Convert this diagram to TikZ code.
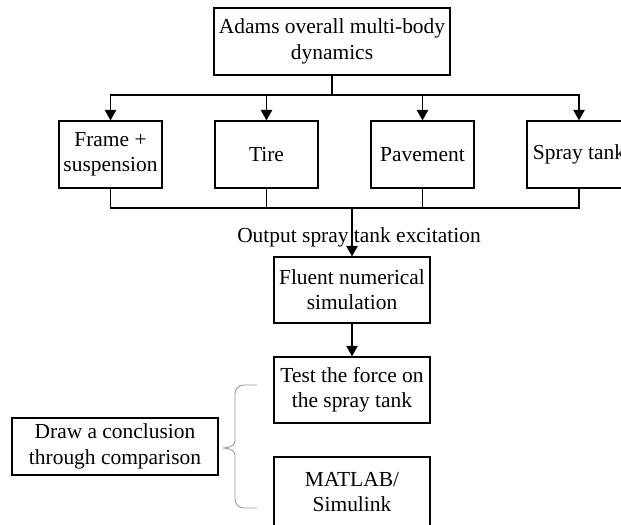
\documentclass[tikz,border=0pt]{standalone}
\usepackage{fontspec}
\setmainfont{Liberation Serif}
\usetikzlibrary{positioning, arrows.meta}

\tikzset{
    block/.style={draw, line width=0.7pt, inner sep=0pt, align=center,
        font=\fontsize{12.2}{14.4}\selectfont},
    smallblock/.style={block, minimum width=2.06cm, minimum height=1.34cm},
    midblock/.style={block, minimum width=3.12cm, minimum height=1.32cm},
    link/.style={line width=0.8pt},
    arrow/.style={link, -{Triangle[length=6pt, width=6.5pt]}},
    brace/.style={gray!80, line width=0.5pt, rounded corners=5pt}
}

\begin{document}
\begin{tikzpicture}[x=0.02cm, y=-0.02cm]
            \useasboundingbox (0,0) rectangle (621,524);
            \clip (0,0) rectangle (621,524);

            \node[block, minimum width=4.72cm, minimum height=1.34cm] (adams) at (332,41.5) {Adams overall multi-body\\dynamics};
            \node[smallblock] (frame) at (110.5,154.5) {Frame +\\suspension};
            \node[smallblock] (tire) at (266.5,154.5) {Tire};
            \node[smallblock] (pave) at (422.5,154.5) {Pavement};
            \node[smallblock, minimum width=2.08cm] (spray) at (579,154.5) {Spray tank};
            \node[midblock] (fluent) at (352,290) {Fluent numerical\\simulation};
            \node[midblock] (test) at (352,390) {Test the force on\\the spray tank};
            \node[midblock, minimum height=1.4cm] (matlab) at (352,492) {MATLAB/\\Simulink};
            \node[block, minimum width=4.12cm, minimum height=1.14cm] (concl) at (115,446.5) {Draw a conclusion\\through comparison};

            \node[font=\fontsize{12.2}{14.4}\selectfont] (output) at (359,237) {Output spray tank excitation};

            % Draw edges
            \coordinate (split) at (332,95);
            \coordinate (join) at (352,208);
            \draw[link] (adams.south) -- (split);
            \draw[arrow] (split) -| (frame.north);
            \draw[arrow] (split) -| (tire.north);
            \draw[arrow] (split) -| (pave.north);
            \draw[arrow] (split) -| (spray.north);
            \draw[link] (frame.south) |- (join);
            \draw[link] (tire.south) |- (join);
            \draw[link] (pave.south) |- (join);
            \draw[link] (spray.south) |- (join);
            \draw[arrow] (join) -- (fluent.north);
            \draw[arrow] (fluent) -- (test);

            % brace between test boxes and conclusion
            \draw[brace] (257,385) -- (235,385) -- (235,441);
            \draw[gray!80, line width=0.5pt] (235,441) .. controls (235,446) and (228,448) .. (223,448)
                .. controls (228,448) and (235,450) .. (235,455);
            \draw[brace] (235,455) -- (235,508) -- (257,508);

        \end{tikzpicture}
\end{document}
